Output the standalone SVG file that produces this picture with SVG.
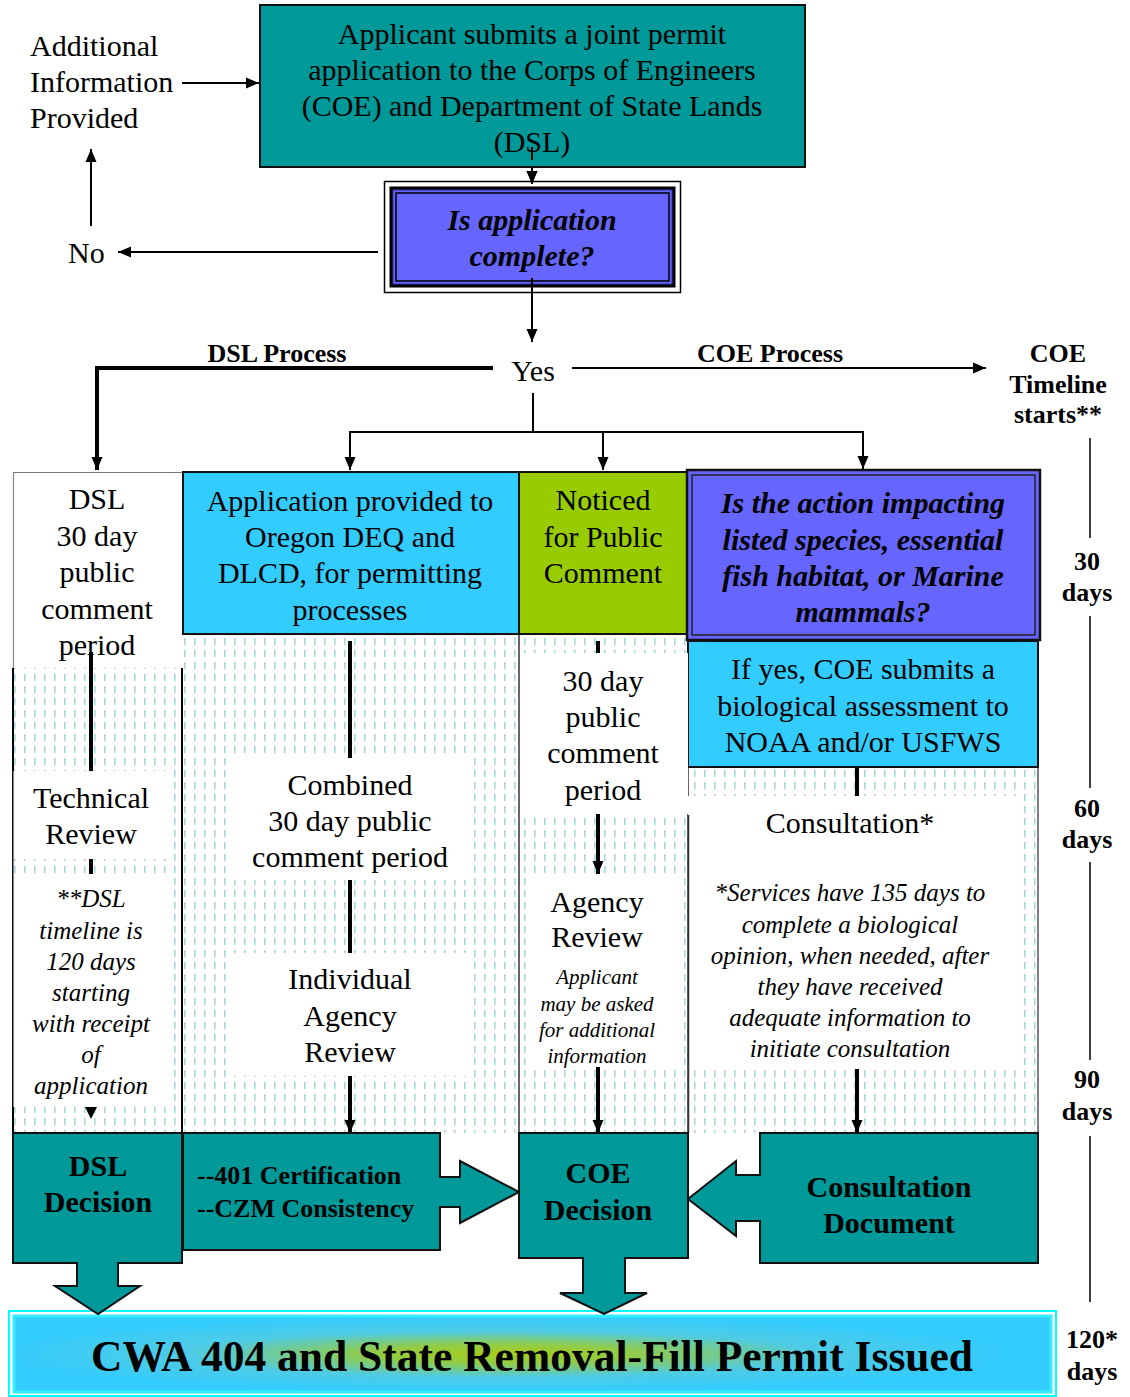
<svg xmlns="http://www.w3.org/2000/svg" width="1130" height="1397" viewBox="0 0 1130 1397">
<style>
text{font-family:"Liberation Serif","Times New Roman",serif;fill:#000}
.t30{font-size:30px;text-anchor:middle}
.b30{font-size:30px;font-weight:bold;text-anchor:middle}
.bi30{font-size:30px;font-weight:bold;font-style:italic;text-anchor:middle}
.b26{font-size:26px;font-weight:bold;text-anchor:middle}
.i25{font-size:25px;font-style:italic;text-anchor:middle}
.i21{font-size:21px;font-style:italic;text-anchor:middle}
.teal{fill:#009999;stroke:#111;stroke-width:2}
.ln{stroke:#000;stroke-width:2;fill:none}
.thk{stroke:#000;stroke-width:4;fill:none}
.wht{fill:#fff;stroke:none}
</style>
<defs>
<marker id="ah" markerUnits="userSpaceOnUse" markerWidth="14" markerHeight="14" viewBox="0 0 14 14" refX="13" refY="7" orient="auto">
<path d="M0,1.5 L13,7 L0,12.5 Z" fill="#000"/>
</marker>
<pattern id="dots" patternUnits="userSpaceOnUse" width="10" height="12" x="0" y="0">
<rect x="4" y="2" width="1.6" height="7" fill="#a9d8dc"/>
</pattern>
<radialGradient id="bg" cx="0.47" cy="0.5" r="0.5">
<stop offset="0" stop-color="#a4cc1c"/>
<stop offset="0.25" stop-color="#92cc48"/>
<stop offset="0.6" stop-color="#4fcbe4"/>
<stop offset="1" stop-color="#33ccff"/>
</radialGradient>
</defs>

<!-- background pattern area -->
<g id="pattern-area">
<rect x="13" y="634" width="1025" height="499" fill="url(#dots)"/>
<line x1="13" y1="668" x2="13" y2="1133" stroke="#000" stroke-width="2"/>
<line x1="182" y1="668" x2="182" y2="1133" stroke="#000" stroke-width="2"/>
<line x1="519" y1="634" x2="519" y2="1133" stroke="#333" stroke-width="1.5"/>
<line x1="688" y1="767" x2="688" y2="1133" stroke="#333" stroke-width="1.5"/>
<line x1="1038" y1="767" x2="1038" y2="1133" stroke="#555" stroke-width="1.5"/>
</g>

<g id="connectors">
<line class="ln" x1="182" y1="83" x2="259" y2="83" marker-end="url(#ah)"/>
<line class="ln" x1="532" y1="147" x2="532" y2="184" marker-end="url(#ah)"/>
<line class="ln" x1="378" y1="252" x2="118" y2="252" marker-end="url(#ah)"/>
<line class="ln" x1="91" y1="226" x2="91" y2="149" marker-end="url(#ah)"/>
<line class="ln" x1="532" y1="278" x2="532" y2="342" marker-end="url(#ah)"/>
<polyline class="thk" points="493,368 97,368 97,470" marker-end="url(#ah)"/>
<line class="ln" x1="572" y1="368" x2="986" y2="368" marker-end="url(#ah)"/>
<polyline class="ln" points="533,393 533,432"/>
<polyline class="ln" points="350,470 350,432 863,432 863,469" marker-end="url(#ah)"/>
<line class="ln" x1="603" y1="432" x2="603" y2="470" marker-end="url(#ah)"/>
<line class="ln" x1="350" y1="433" x2="350" y2="470" marker-end="url(#ah)"/>
<!-- column flows -->
<line class="thk" x1="91" y1="652" x2="91" y2="771"/>
<line class="thk" x1="91" y1="859" x2="91" y2="874"/>
<path d="M85,1107 L97,1107 L91,1119 Z" fill="#000"/>
<line class="thk" x1="350" y1="641" x2="350" y2="758"/>
<line class="thk" x1="350" y1="880" x2="350" y2="953"/>
<line class="thk" x1="350" y1="1076" x2="350" y2="1133" marker-end="url(#ah)"/>
<line class="thk" x1="598" y1="641" x2="598" y2="653"/>
<line class="thk" x1="598" y1="814" x2="598" y2="874" marker-end="url(#ah)"/>
<line class="thk" x1="598" y1="1067" x2="598" y2="1133" marker-end="url(#ah)"/>
<line class="thk" x1="857" y1="767" x2="857" y2="796"/>
<line class="thk" x1="857" y1="1069" x2="857" y2="1133" marker-end="url(#ah)"/>
<!-- timeline -->
<line x1="1090" y1="438" x2="1090" y2="538" stroke="#000" stroke-width="1.5"/>
<line x1="1090" y1="616" x2="1090" y2="788" stroke="#000" stroke-width="1.5"/>
<line x1="1090" y1="862" x2="1090" y2="1060" stroke="#000" stroke-width="1.5"/>
<line x1="1090" y1="1136" x2="1090" y2="1302" stroke="#000" stroke-width="1.5"/>
</g>

<g id="n-additional">
<text x="30" y="56" font-size="30">Additional</text>
<text x="30" y="92" font-size="30">Information</text>
<text x="30" y="128" font-size="30">Provided</text>
</g>

<g id="n-submit">
<rect class="teal" x="260" y="5" width="545" height="162"/>
<text class="t30" x="532" y="44">Applicant submits a joint permit</text>
<text class="t30" x="532" y="80">application to the Corps of Engineers</text>
<text class="t30" x="532" y="116">(COE) and Department of State Lands</text>
<text class="t30" x="532" y="152">(DSL)</text>
</g>
<line class="ln" x1="532" y1="147" x2="532" y2="160"/>

<g id="n-complete">
<rect x="384.5" y="181.5" width="296" height="111" fill="#fff" stroke="#000" stroke-width="1.5"/>
<rect x="389.5" y="186.5" width="286" height="101" fill="#000" stroke="none"/>
<rect x="393" y="190" width="279" height="94" fill="#6666ff" stroke="#3333aa" stroke-width="1"/>
<rect x="396" y="193" width="273" height="88" fill="#6666ff" stroke="#000" stroke-width="1.5"/>
<text class="bi30" x="532" y="230">Is application</text>
<text class="bi30" x="532" y="266">complete?</text>
</g>
<line class="ln" x1="532" y1="178" x2="532" y2="184" marker-end="url(#ah)"/>
<line class="ln" x1="532" y1="278" x2="532" y2="293"/>

<g id="n-no"><text x="68" y="263" font-size="30">No</text></g>
<g id="n-yes"><text class="t30" x="533" y="381">Yes</text></g>
<g id="l-dsl-process"><text class="b26" x="277" y="362">DSL Process</text></g>
<g id="l-coe-process"><text class="b26" x="770" y="362">COE Process</text></g>
<g id="n-coe-timeline">
<text class="b26" x="1058" y="362">COE</text>
<text class="b26" x="1058" y="393">Timeline</text>
<text class="b26" x="1058" y="423">starts**</text>
</g>

<g id="n-dsl-30">
<rect class="wht" x="13" y="472" width="170" height="196"/>
<line x1="13" y1="472.5" x2="183" y2="472.5" stroke="#777" stroke-width="1.2"/>
<line x1="13.5" y1="472" x2="13.5" y2="668" stroke="#888" stroke-width="1.2"/>
<text class="t30" x="97" y="509">DSL</text>
<text class="t30" x="97" y="546">30 day</text>
<text class="t30" x="97" y="582">public</text>
<text class="t30" x="97" y="619">comment</text>
<text class="t30" x="97" y="655">period</text>
</g>
<line class="thk" x1="91" y1="652" x2="91" y2="668"/>

<g id="n-deq">
<rect x="183" y="472" width="336" height="162" fill="#33ccff" stroke="#111" stroke-width="2"/>
<text class="t30" x="350" y="511">Application provided to</text>
<text class="t30" x="350" y="547">Oregon DEQ and</text>
<text class="t30" x="350" y="583">DLCD, for permitting</text>
<text class="t30" x="350" y="620">processes</text>
</g>

<g id="n-noticed">
<rect x="519" y="472" width="169" height="162" fill="#99cc00" stroke="#111" stroke-width="2"/>
<text class="t30" x="603" y="510">Noticed</text>
<text class="t30" x="603" y="547">for Public</text>
<text class="t30" x="603" y="583">Comment</text>
</g>

<g id="n-species">
<rect x="687" y="470" width="353" height="170" fill="#6666ff" stroke="#111" stroke-width="2.5"/>
<rect x="692" y="475" width="343" height="160" fill="#6666ff" stroke="#222" stroke-width="1.5"/>
<text class="bi30" x="863" y="513">Is the action impacting</text>
<text class="bi30" x="863" y="550">listed species, essential</text>
<text class="bi30" x="863" y="586">fish habitat, or Marine</text>
<text class="bi30" x="863" y="622">mammals?</text>
</g>

<g id="n-ifyes">
<rect x="688" y="641" width="350" height="126" fill="#33ccff" stroke="#111" stroke-width="2"/>
<text class="t30" x="863" y="679">If yes, COE submits a</text>
<text class="t30" x="863" y="716">biological assessment to</text>
<text class="t30" x="863" y="752">NOAA and/or USFWS</text>
</g>

<g id="n-technical">
<rect class="wht" x="13" y="771" width="156" height="88"/>
<text class="t30" x="91" y="808">Technical</text>
<text class="t30" x="91" y="844">Review</text>
</g>

<g id="n-dsl-note">
<rect class="wht" x="13" y="874" width="156" height="233"/>
<text class="i25" x="91" y="907">**DSL</text>
<text class="i25" x="91" y="939">timeline is</text>
<text class="i25" x="91" y="970">120 days</text>
<text class="i25" x="91" y="1001">starting</text>
<text class="i25" x="91" y="1032">with receipt</text>
<text class="i25" x="91" y="1063">of</text>
<text class="i25" x="91" y="1094">application</text>
</g>
<line x1="13.5" y1="771" x2="13.5" y2="1107" stroke="#888" stroke-width="1.2"/>

<g id="n-combined">
<rect class="wht" x="234" y="758" width="234" height="122"/>
<text class="t30" x="350" y="795">Combined</text>
<text class="t30" x="350" y="831">30 day public</text>
<text class="t30" x="350" y="867">comment period</text>
</g>

<g id="n-individual">
<rect class="wht" x="234" y="953" width="234" height="123"/>
<text class="t30" x="350" y="989">Individual</text>
<text class="t30" x="350" y="1026">Agency</text>
<text class="t30" x="350" y="1062">Review</text>
</g>

<g id="n-coe-30">
<rect class="wht" x="520" y="653" width="168" height="161"/>
<text class="t30" x="603" y="691">30 day</text>
<text class="t30" x="603" y="727">public</text>
<text class="t30" x="603" y="763">comment</text>
<text class="t30" x="603" y="800">period</text>
</g>

<g id="n-agency">
<rect class="wht" x="527" y="875" width="154" height="192"/>
<text class="t30" x="597" y="912">Agency</text>
<text class="t30" x="597" y="947">Review</text>
<text class="i21" x="597" y="984">Applicant</text>
<text class="i21" x="597" y="1011">may be asked</text>
<text class="i21" x="597" y="1037">for additional</text>
<text class="i21" x="597" y="1063">information</text>
</g>

<g id="n-consultation">
<rect class="wht" x="688" y="796" width="328" height="273"/>
<text class="t30" x="850" y="833">Consultation*</text>
<text class="i25" x="850" y="901">*Services have 135 days to</text>
<text class="i25" x="850" y="933">complete a biological</text>
<text class="i25" x="850" y="964">opinion, when needed, after</text>
<text class="i25" x="850" y="995">they have received</text>
<text class="i25" x="850" y="1026">adequate information to</text>
<text class="i25" x="850" y="1057">initiate consultation</text>
</g>
<line x1="688.5" y1="815" x2="688.5" y2="1133" stroke="#333" stroke-width="1.5"/>

<g id="n-permit">
<rect x="9" y="1311" width="1047" height="85" fill="#fff" stroke="#00ffff" stroke-width="2"/>
<rect x="14" y="1316" width="1037" height="76" fill="url(#bg)" stroke="#33eeff" stroke-width="3"/>
<text x="532" y="1371" font-size="43.5" font-weight="bold" text-anchor="middle">CWA 404 and State Removal-Fill Permit Issued</text>
</g>

<g id="n-dsl-decision">
<path class="teal" d="M13,1133 H182 V1263 H118 V1286 H140 L98,1314 L55,1286 H77 V1263 H13 Z"/>
<text class="b30" x="98" y="1176">DSL</text>
<text class="b30" x="98" y="1212">Decision</text>
</g>

<g id="n-401">
<path class="teal" d="M183,1133 H440 V1177 H460 V1161 L519,1192 L460,1223 V1207 H440 V1250 H183 Z"/>
<text x="197" y="1184" font-size="26" font-weight="bold">--401 Certification</text>
<text x="197" y="1217" font-size="26" font-weight="bold">--CZM Consistency</text>
</g>

<g id="n-coe-decision">
<path class="teal" d="M519,1133 H688 V1258 H625 V1293 H647 L604,1314 L560,1293 H583 V1258 H519 Z"/>
<text class="b30" x="598" y="1183">COE</text>
<text class="b30" x="598" y="1220">Decision</text>
</g>

<g id="n-consult-doc">
<path class="teal" d="M760,1133 H1038 V1263 H760 V1221 H736 V1236 L688,1199 L736,1161 V1175 H760 Z"/>
<text class="b30" x="889" y="1197">Consultation</text>
<text class="b30" x="889" y="1233">Document</text>
</g>

<g id="timeline-labels">
<text class="b26" x="1087" y="570">30</text>
<text class="b26" x="1087" y="601">days</text>
<text class="b26" x="1087" y="817">60</text>
<text class="b26" x="1087" y="848">days</text>
<text class="b26" x="1087" y="1088">90</text>
<text class="b26" x="1087" y="1120">days</text>
<text class="b26" x="1092" y="1348">120*</text>
<text class="b26" x="1092" y="1380">days</text>
</g>
</svg>
